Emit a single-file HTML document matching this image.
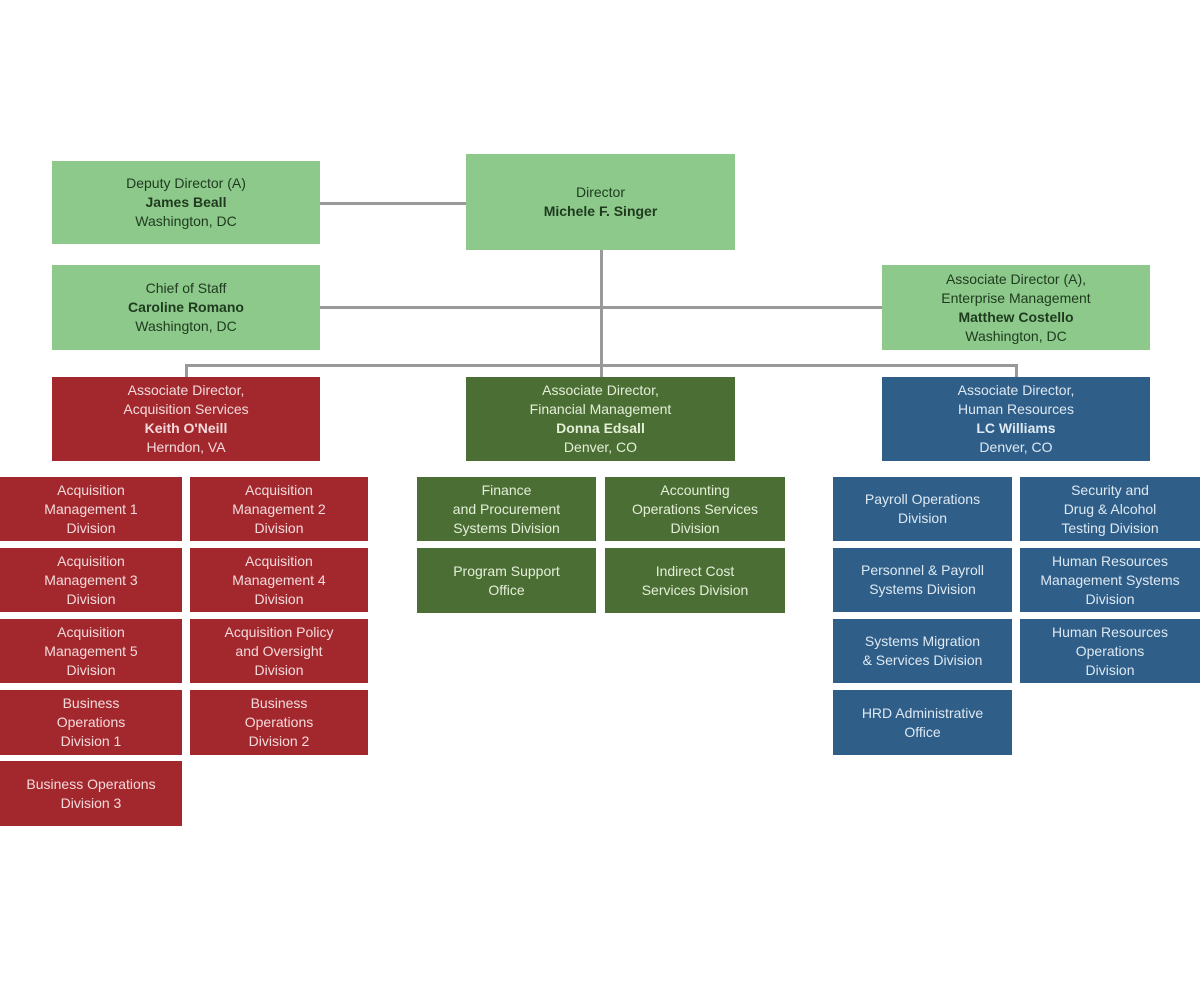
<!DOCTYPE html>
<html><head><style>
body{margin:0;width:1200px;height:981px;background:#fff;position:relative;overflow:hidden;font-family:"Liberation Sans",sans-serif}
.b{position:absolute;display:flex;align-items:center;justify-content:center;text-align:center;font-size:14px;line-height:19px;box-sizing:border-box}
.b>div{width:100%}
.lg{background:#8cc98a;color:#1f3a1f}
.r{background:#a3282e;color:#f3dada}
.g{background:#4b6e34;color:#e4efd8}
.bl{background:#2f5f88;color:#dde8f2}
.l{position:absolute;background:#999}
</style></head><body>
<div class="l" style="left:320px;top:202px;width:146px;height:3px"></div>
<div class="l" style="left:600px;top:250px;width:3px;height:127px"></div>
<div class="l" style="left:320px;top:306px;width:562px;height:3px"></div>
<div class="l" style="left:185px;top:364px;width:832px;height:3px"></div>
<div class="l" style="left:185px;top:364px;width:3px;height:13px"></div>
<div class="l" style="left:1015px;top:364px;width:3px;height:13px"></div>

<div class="b lg" style="left:52px;top:161px;width:268px;height:83px"><div>Deputy Director (A)<br><b>James Beall</b><br>Washington, DC</div></div>
<div class="b lg" style="left:466px;top:154px;width:269px;height:96px"><div>Director<br><b>Michele F. Singer</b></div></div>
<div class="b lg" style="left:52px;top:265px;width:268px;height:85px"><div>Chief of Staff<br><b>Caroline Romano</b><br>Washington, DC</div></div>
<div class="b lg" style="left:882px;top:265px;width:268px;height:85px"><div>Associate Director (A),<br>Enterprise Management<br><b>Matthew Costello</b><br>Washington, DC</div></div>

<div class="b r" style="left:52px;top:377px;width:268px;height:84px"><div>Associate Director,<br>Acquisition Services<br><b>Keith O'Neill</b><br>Herndon, VA</div></div>
<div class="b g" style="left:466px;top:377px;width:269px;height:84px"><div>Associate Director,<br>Financial Management<br><b>Donna Edsall</b><br>Denver, CO</div></div>
<div class="b bl" style="left:882px;top:377px;width:268px;height:84px"><div>Associate Director,<br>Human Resources<br><b>LC Williams</b><br>Denver, CO</div></div>

<div class="b r" style="left:0;top:477px;width:182px;height:64px"><div>Acquisition<br>Management 1<br>Division</div></div>
<div class="b r" style="left:190px;top:477px;width:178px;height:64px"><div>Acquisition<br>Management 2<br>Division</div></div>
<div class="b r" style="left:0;top:548px;width:182px;height:64px"><div>Acquisition<br>Management 3<br>Division</div></div>
<div class="b r" style="left:190px;top:548px;width:178px;height:64px"><div>Acquisition<br>Management 4<br>Division</div></div>
<div class="b r" style="left:0;top:619px;width:182px;height:64px"><div>Acquisition<br>Management 5<br>Division</div></div>
<div class="b r" style="left:190px;top:619px;width:178px;height:64px"><div>Acquisition Policy<br>and Oversight<br>Division</div></div>
<div class="b r" style="left:0;top:690px;width:182px;height:65px"><div>Business<br>Operations<br>Division 1</div></div>
<div class="b r" style="left:190px;top:690px;width:178px;height:65px"><div>Business<br>Operations<br>Division 2</div></div>
<div class="b r" style="left:0;top:761px;width:182px;height:65px"><div>Business Operations<br>Division 3</div></div>

<div class="b g" style="left:417px;top:477px;width:179px;height:64px"><div>Finance<br>and Procurement<br>Systems Division</div></div>
<div class="b g" style="left:605px;top:477px;width:180px;height:64px"><div>Accounting<br>Operations Services<br>Division</div></div>
<div class="b g" style="left:417px;top:548px;width:179px;height:65px"><div>Program Support<br>Office</div></div>
<div class="b g" style="left:605px;top:548px;width:180px;height:65px"><div>Indirect Cost<br>Services Division</div></div>

<div class="b bl" style="left:833px;top:477px;width:179px;height:64px"><div>Payroll Operations<br>Division</div></div>
<div class="b bl" style="left:1020px;top:477px;width:180px;height:64px"><div>Security and<br>Drug &amp; Alcohol<br>Testing Division</div></div>
<div class="b bl" style="left:833px;top:548px;width:179px;height:64px"><div>Personnel &amp; Payroll<br>Systems Division</div></div>
<div class="b bl" style="left:1020px;top:548px;width:180px;height:64px"><div>Human Resources<br>Management Systems<br>Division</div></div>
<div class="b bl" style="left:833px;top:619px;width:179px;height:64px"><div>Systems Migration<br>&amp; Services Division</div></div>
<div class="b bl" style="left:1020px;top:619px;width:180px;height:64px"><div>Human Resources<br>Operations<br>Division</div></div>
<div class="b bl" style="left:833px;top:690px;width:179px;height:65px"><div>HRD Administrative<br>Office</div></div>
</body></html>
